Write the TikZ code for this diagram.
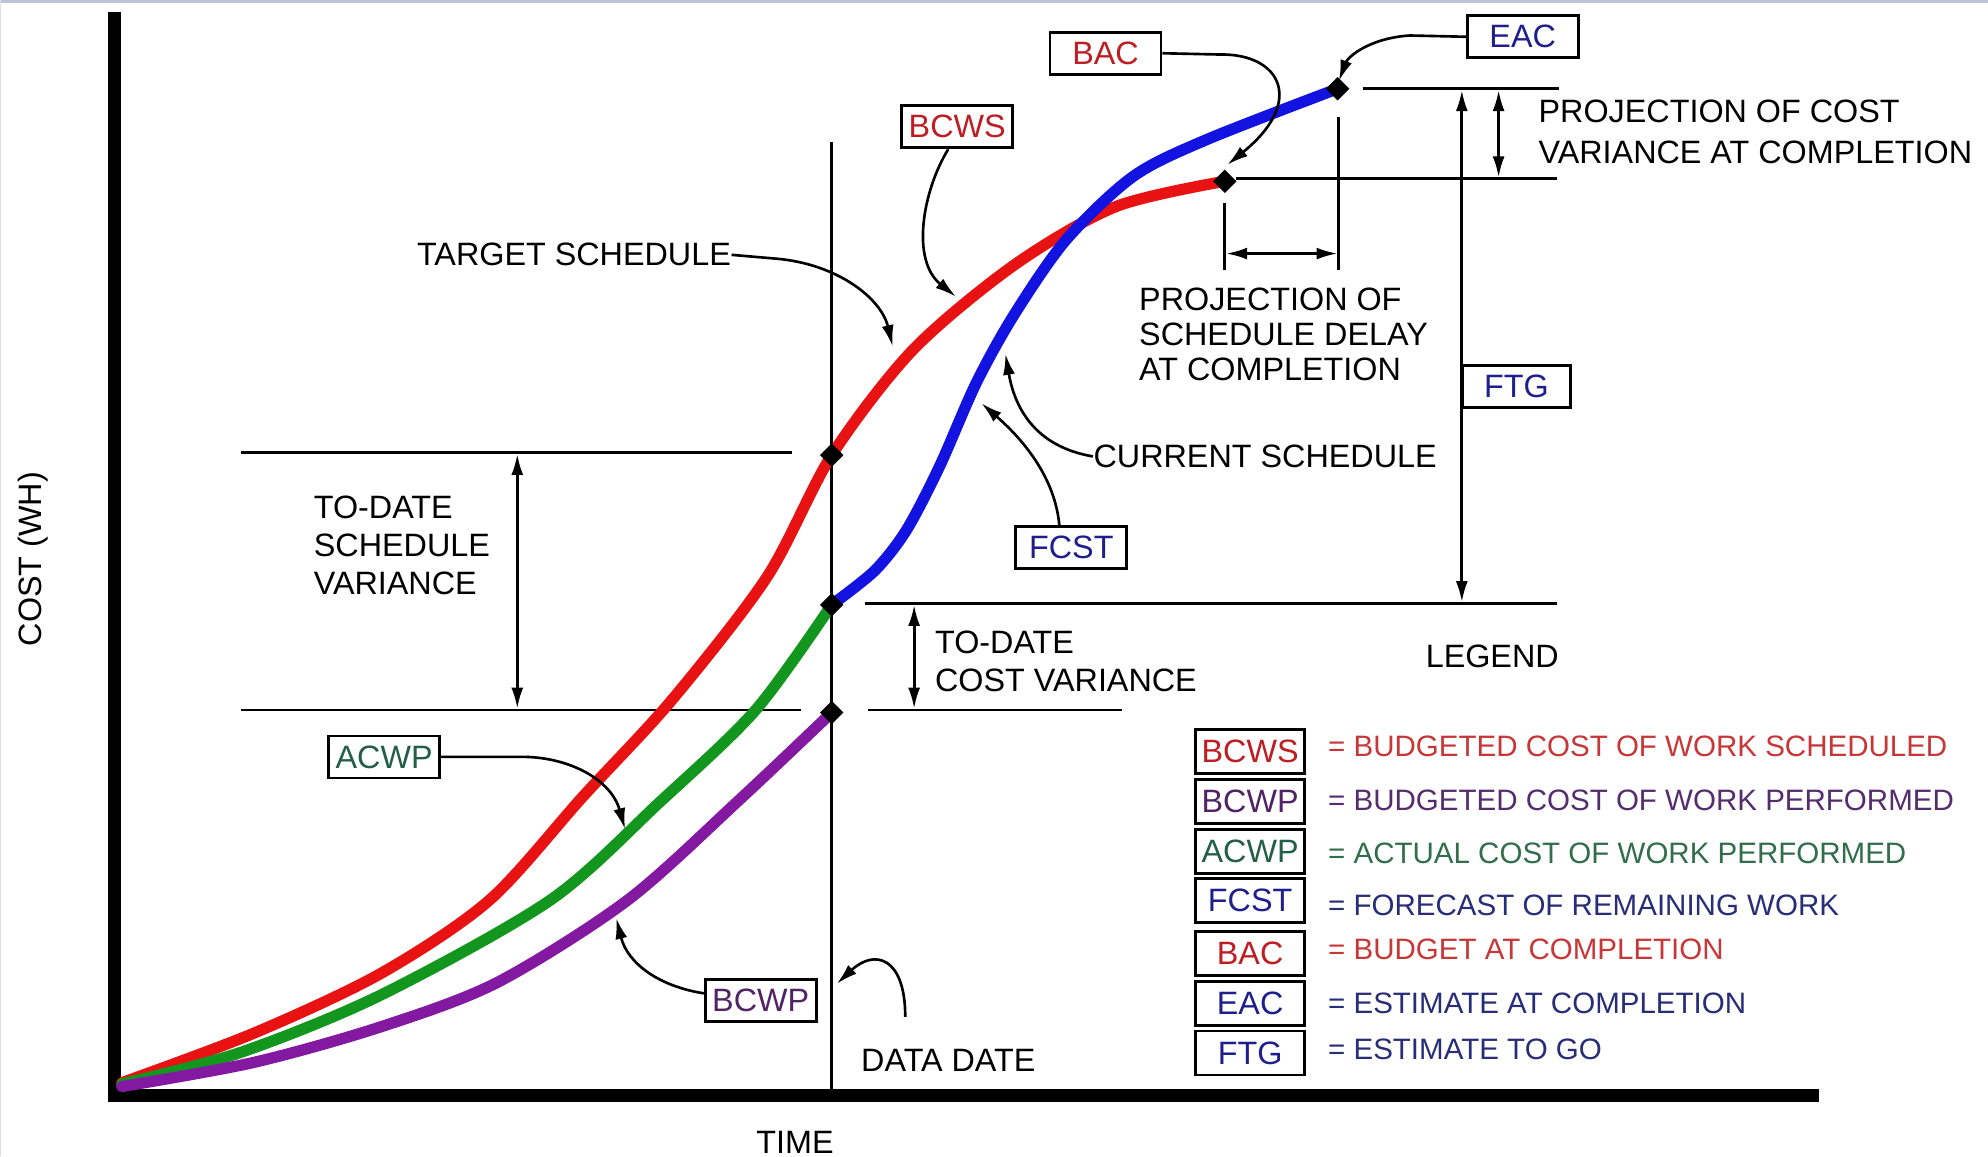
\documentclass[tikz,border=0pt]{standalone}
\usepackage{fontspec}
\setmainfont{Liberation Sans}
\usetikzlibrary{arrows.meta}
\usetikzlibrary{shapes.geometric}
\definecolor{curvered}{RGB}{232,18,18}
\definecolor{curvegreen}{RGB}{18,150,30}
\definecolor{curvepurple}{RGB}{130,25,160}
\definecolor{curveblue}{RGB}{18,18,225}
\definecolor{tagred}{RGB}{190,30,35}
\definecolor{tagnavy}{RGB}{30,30,140}
\definecolor{taggreen}{RGB}{35,95,70}
\definecolor{tagpurple}{RGB}{80,35,100}
\definecolor{keyred}{RGB}{200,55,55}
\definecolor{keypurple}{RGB}{85,45,110}
\definecolor{keygreen}{RGB}{50,110,75}
\definecolor{keynavy}{RGB}{40,45,120}
\definecolor{framegray}{RGB}{192,194,216}

\begin{document}
\begin{tikzpicture}[x=0.012679cm,y=-0.012679cm,
	lbl/.style={inner sep=0pt,font=\fontsize{9.2}{10.8}\selectfont},
	tag/.style={draw,line width=0.8pt,minimum width=1.11cm,minimum height=0.42cm,inner sep=0pt,font=\fontsize{9.2}{11}\selectfont},
	keybox/.style={tag,minimum width=1.09cm,minimum height=0.44cm},
	keytext/.style={anchor=west,inner sep=0pt,font=\fontsize{8.4}{10}\selectfont},
	pointer/.style={line width=0.75pt,-{Latex[length=6pt,width=3.4pt]}},
	dim/.style={line width=0.8pt,{Latex[length=6pt,width=3.4pt]}-{Latex[length=6pt,width=3.4pt]}},
	guide/.style={line width=0.8pt},
	curve/.style={line width=3.2pt,line cap=round,line join=round},
	dot/.style={diamond,fill,inner sep=0pt,minimum size=2.4mm}]
	\useasboundingbox (0,0) rectangle (1568,912);
	\fill[white] (0,0) rectangle (1568,912);
	\fill[framegray] (0,0) rectangle (1568,2);
	\draw[gray!25,line width=0.4pt] (0.5,0) -- (0.5,912);

	\draw[line width=3.7pt] (90,9.5) -- (90,868);
	\draw[line width=3.9pt] (85,864) -- (1435,864);
	\draw[guide] (656,112) -- (656,860);

	\draw[guide] (190,357) -- (625,357);
	\draw[guide] (190,560) -- (632,560);
	\draw[guide] (685,560) -- (885,560);
	\draw[guide] (682,476) -- (1228,476);
	\draw[guide] (975,141) -- (1228,141);
	\draw[guide] (1075,70) -- (1230,70);
	\draw[guide] (966,160) -- (966,213);
	\draw[guide] (1056,92) -- (1056,213);

	\draw[dim] (408,358) -- (408,559);
	\draw[dim] (721,477) -- (721,559);
	\draw[dim] (1153,71) -- (1153,475);
	\draw[dim] (1182,71) -- (1182,140);
	\draw[dim] (967,200) -- (1055,200);

	\draw[curve,curvered] plot[smooth] coordinates {(96,854) (200,815) (300,768) (386,710) (460,628) (530,552) (605,455) (656,359) (720,276) (800,209) (880,163) (966,143)};
	\draw[curve,curvegreen] plot[smooth] coordinates {(96,855) (190,830) (300,785) (434,710) (520,633) (596,560) (656,477)};
	\draw[curve,curvepurple] plot[smooth] coordinates {(96,857) (200,838) (300,810) (392,775) (495,710) (583,631) (656,562)};
	\draw[curve,curveblue] plot[smooth] coordinates {(656,477) (690,450) (715,418) (741,368) (770,302) (800,248) (841,189) (894,139) (952,110) (1055,70)};

	\node[dot] (p1) at (656,359) {};
	\node[dot] (p2) at (656,477) {};
	\node[dot] (p3) at (656,562) {};
	\node[dot] (p4) at (966,143) {};
	\node[dot] (p5) at (1055,70) {};

	\node[lbl,anchor=east] (tgt) at (577,201) {TARGET SCHEDULE};
	\node[lbl,anchor=west,align=left] (sv) at (247,430) {TO-DATE\\SCHEDULE\\VARIANCE};
	\node[lbl,anchor=west,align=left] (cv) at (737,522) {TO-DATE\\COST VARIANCE};
	\node[lbl,anchor=west] (cur) at (862,360) {CURRENT SCHEDULE};
	\node[lbl,anchor=west,align=left,font=\fontsize{9.2}{11.9}\selectfont] (pcv) at (1213,104) {PROJECTION OF COST\\VARIANCE AT COMPLETION};
	\node[lbl,anchor=west,align=left,font=\fontsize{9.2}{10}\selectfont] (psd) at (898,264) {PROJECTION OF\\SCHEDULE DELAY\\AT COMPLETION};
	\node[lbl] (legend) at (1177,518) {LEGEND};
	\node[lbl] (ddate) at (748,836) {DATA DATE};
	\node[lbl] (time) at (627,901) {TIME};
	\node[lbl,rotate=90] (cost) at (26,441) {COST (WH)};

	\node[tag,text=tagred] (bac) at (872,42) {BAC};
	\node[tag,text=tagnavy] (eac) at (1201,29) {EAC};
	\node[tag,text=tagred] (bcws) at (755,100) {BCWS};
	\node[tag,text=tagnavy] (fcst) at (845,432) {FCST};
	\node[tag,text=tagnavy,minimum width=1.08cm] (ftg) at (1196,305) {FTG};
	\node[tag,text=taggreen] (acwp) at (303,597) {ACWP};
	\node[tag,text=tagpurple] (bcwp) at (600,789) {BCWP};

	\coordinate (tiptgt) at (704,273);
	\coordinate (tipbcws) at (754,234);
	\coordinate (tipcur) at (793,279);
	\coordinate (tipfcst) at (774,318);
	\coordinate (tipbac) at (968,130);
	\coordinate (tipeac) at (1056,64);
	\coordinate (tipacwp) at (493,654);
	\coordinate (tipbcwp) at (486,724);
	\coordinate (ddfoot) at (714,802);
	\coordinate (tipdd) at (660,776);

	\draw[pointer] (tgt.east) -- (612,204) .. controls (660,208) and (695,235) .. (tiptgt);
	\draw[pointer] ([xshift=-0.09cm]bcws.south) .. controls (728,150) and (718,205) .. (tipbcws);
	\draw[pointer] (cur.west) .. controls (815,352) and (800,320) .. (tipcur);
	\draw[pointer] ([xshift=-0.12cm]fcst.north) .. controls (832,375) and (805,345) .. (tipfcst);
	\draw[pointer] (bac.east) -- (962,43) .. controls (1010,42) and (1030,80) .. (tipbac);
	\draw[pointer] (eac.west) -- (1112,28) .. controls (1080,30) and (1063,45) .. (tipeac);
	\draw[pointer] (acwp.east) -- (415,597) .. controls (450,598) and (482,615) .. (tipacwp);
	\draw[pointer] ([yshift=0.07cm]bcwp.west) .. controls (520,778) and (495,760) .. (tipbcwp);
	\draw[pointer] (ddfoot) .. controls (714,755) and (690,748) .. (tipdd);

	\foreach \k/\col/\y/\txt/\tcol/\ty in {BCWS/tagred/592.5/BUDGETED COST OF WORK SCHEDULED/keyred/589,
		BCWP/tagpurple/632/BUDGETED COST OF WORK PERFORMED/keypurple/631,
		ACWP/taggreen/671.5/ACTUAL COST OF WORK PERFORMED/keygreen/673,
		FCST/tagnavy/710.5/FORECAST OF REMAINING WORK/keynavy/714,
		BAC/tagred/752/BUDGET AT COMPLETION/keyred/749,
		EAC/tagnavy/791.5/ESTIMATE AT COMPLETION/keynavy/791,
		FTG/tagnavy/830.5/ESTIMATE TO GO/keynavy/828}
	{
		\node[keybox,text=\col] (key\k) at (986,\y) {\k};
		\node[keytext,text=\tcol] (def\k) at (1047,\ty) {= \txt};
	}
\end{tikzpicture}
\end{document}
